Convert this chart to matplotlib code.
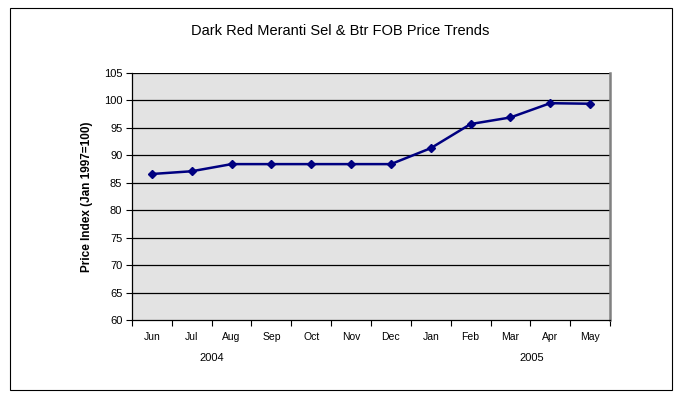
import matplotlib
matplotlib.use("Agg")
import matplotlib.pyplot as plt
from matplotlib.patches import Rectangle

months = ["Jun", "Jul", "Aug", "Sep", "Oct", "Nov", "Dec", "Jan", "Feb", "Mar", "Apr", "May"]
values = [86.6, 87.1, 88.4, 88.4, 88.4, 88.4, 88.4, 91.3, 95.7, 96.9, 99.5, 99.4]
yticks = [60, 65, 70, 75, 80, 85, 90, 95, 100, 105]
years = ["2004", "2005"]

plt.rcParams['font.family'] = ['Liberation Sans', 'DejaVu Sans']

W, H = 680, 400
fig = plt.figure(figsize=(W / 100, H / 100), dpi=100)
fig.patch.set_facecolor("white")

# outer border
fig.patches.append(Rectangle((10 / W, 1 - 390 / H), 662 / W, 382 / H, transform=fig.transFigure,
                             fill=False, edgecolor="black", linewidth=0.8))

left, right, top, bottom = 132, 610, 73, 320
ax = fig.add_axes([left / W, 1 - bottom / H, (right - left) / W, (bottom - top) / H])
ax.set_facecolor("#e3e3e3")

x = list(range(len(months)))
ax.plot(x, values, color="#000080", linewidth=1.8, marker="D", markersize=4.5,
        markerfacecolor="#000080", markeredgecolor="#000080")

ax.set_xlim(-0.5, len(months) - 0.5)
ax.set_ylim(60, 105)
ax.set_yticks(yticks)
ax.set_yticklabels([str(v) for v in yticks], fontsize=8)
for v in yticks[1:]:
    ax.axhline(v, color="black", linewidth=0.9, zorder=1)

ax.set_xticks([i - 0.5 for i in range(len(months) + 1)])
ax.set_xticklabels([])
ax.set_xticks(x, minor=True)
ax.set_xticklabels(months, minor=True, fontsize=7.5)
ax.tick_params(axis="x", which="minor", length=0, pad=9)
ax.tick_params(axis="x", which="major", length=4, direction="out", width=0.8)
ax.tick_params(axis="y", length=4, direction="out", width=0.8, pad=3)

for s in ["left", "bottom"]:
    ax.spines[s].set_color("black")
    ax.spines[s].set_linewidth(0.9)
for s in ["right", "top"]:
    ax.spines[s].set_color("#808080")
    ax.spines[s].set_linewidth(1.8)
ax.spines["top"].set_visible(False)

ax.set_ylabel("Price Index (Jan 1997=100)", fontsize=8.5, fontweight="bold", labelpad=8)

fig.text(340 / W, 1 - 31 / H, "Dark Red Meranti Sel & Btr FOB Price Trends", ha="center", va="center",
         fontsize=10.5)
fig.text(212 / W, 1 - 358 / H, years[0], ha="center", va="center", fontsize=8)
fig.text(532 / W, 1 - 358 / H, years[1], ha="center", va="center", fontsize=8)

fig.savefig("out.png", dpi=100)
